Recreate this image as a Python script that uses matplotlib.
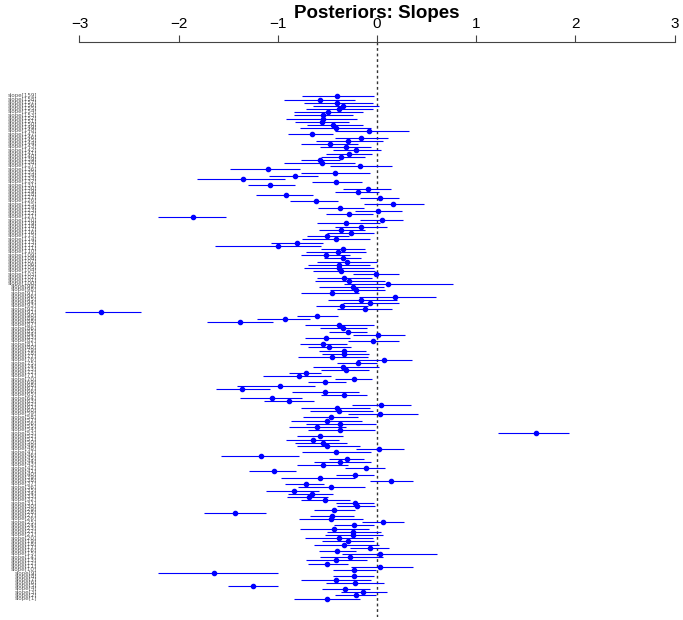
import numpy as np
import matplotlib
matplotlib.use("Agg")
import matplotlib.pyplot as plt

# posterior medians and 95% intervals, top row first
med = [-0.40, -0.57, -0.40, -0.34, -0.38, -0.49, -0.54, -0.54, -0.55, -0.44,
       -0.41, -0.08, -0.66, -0.16, -0.29, -0.47, -0.31, -0.21, -0.28, -0.36,
       -0.57, -0.55, -0.17, -1.10, -0.42, -0.83, -1.35, -0.41, -1.08, -0.09,
       -0.19, -0.92, 0.03, -0.62, 0.16, -0.37, 0.01, -0.28, -1.86, 0.05,
       -0.31, -0.16, -0.36, -0.26, -0.50, -0.41, -0.81, -1.00, -0.34, -0.39,
       -0.51, -0.34, -0.30, -0.38, -0.38, -0.36, -0.01, -0.33, -0.28, 0.11,
       -0.24, -0.21, -0.45, 0.18, -0.16, -0.07, -0.35, -0.12, -2.78, -0.60,
       -0.93, -1.38, -0.38, -0.34, -0.29, 0.01, -0.51, -0.04, -0.54, -0.48,
       -0.33, -0.33, -0.45, 0.07, -0.19, -0.34, -0.31, -0.72, -0.79, -0.23,
       -0.52, -0.98, -1.36, -0.52, -0.33, -1.06, -0.89, 0.04, -0.40, -0.38,
       0.03, -0.46, -0.50, -0.37, -0.60, -0.37, 1.60, -0.57, -0.65, -0.54,
       -0.50, 0.02, -0.41, -1.17, -0.30, -0.37, -0.54, -0.11, -1.04, -0.22,
       -0.57, 0.14, -0.72, -0.46, -0.84, -0.66, -0.69, -0.52, -0.22, -0.20,
       -0.43, -1.43, -0.45, -0.46, 0.06, -0.23, -0.43, -0.24, -0.24, -0.38,
       -0.29, -0.33, -0.07, -0.40, 0.03, -0.27, -0.41, -0.50, 0.03, -0.23,
       -1.64, -0.23, -0.41, -0.22, -1.25, -0.32, -0.14, -0.21, -0.50]
lo = [-0.76, -0.94, -0.74, -0.65, -0.72, -0.84, -0.84, -0.92, -0.83, -0.71,
      -0.78, -0.42, -0.90, -0.42, -0.61, -0.77, -0.57, -0.44, -0.51, -0.56,
      -0.77, -0.94, -0.47, -1.48, -0.77, -1.09, -1.81, -0.66, -1.30, -0.34,
      -0.42, -1.22, -0.17, -0.88, -0.13, -0.59, -0.22, -0.51, -2.21, -0.17,
      -0.60, -0.42, -0.58, -0.50, -0.71, -0.76, -1.07, -1.63, -0.56, -0.72,
      -0.77, -0.53, -0.60, -0.70, -0.74, -0.65, -0.24, -0.60, -0.63, -0.33,
      -0.58, -0.47, -0.77, -0.18, -0.49, -0.34, -0.62, -0.40, -3.15, -0.81,
      -1.21, -1.71, -0.73, -0.57, -0.48, -0.24, -0.73, -0.29, -0.78, -0.70,
      -0.58, -0.55, -0.80, -0.20, -0.40, -0.65, -0.56, -0.89, -1.15, -0.42,
      -0.70, -1.41, -1.62, -0.86, -0.56, -1.38, -1.14, -0.25, -0.77, -0.68,
      -0.29, -0.75, -0.87, -0.72, -0.89, -0.70, 1.22, -0.81, -0.92, -0.83,
      -0.81, -0.21, -0.76, -1.57, -0.48, -0.64, -0.81, -0.32, -1.29, -0.41,
      -0.97, -0.07, -0.93, -0.80, -1.12, -0.90, -0.91, -0.77, -0.41, -0.40,
      -0.64, -1.74, -0.68, -0.79, -0.15, -0.43, -0.78, -0.50, -0.52, -0.73,
      -0.55, -0.64, -0.27, -0.58, -0.35, -0.57, -0.72, -0.70, -0.26, -0.44,
      -2.21, -0.44, -0.77, -0.51, -1.50, -0.55, -0.36, -0.42, -0.84]
hi = [-0.03, -0.22, -0.04, 0.02, -0.04, -0.14, -0.24, -0.20, -0.28, -0.14,
      -0.06, 0.32, -0.44, 0.11, 0.06, -0.19, -0.06, 0.04, -0.05, -0.12,
      -0.37, -0.22, 0.15, -0.78, -0.07, -0.59, -0.93, -0.15, -0.83, 0.14,
      0.02, -0.65, 0.22, -0.39, 0.47, -0.13, 0.25, -0.04, -1.52, 0.26,
      0.03, 0.10, -0.12, -0.03, -0.28, -0.07, -0.54, -0.56, -0.12, -0.11,
      -0.27, -0.16, 0.00, -0.07, -0.03, -0.02, 0.22, -0.05, 0.08, 0.77,
      0.07, 0.08, -0.18, 0.60, 0.20, 0.22, -0.09, 0.15, -2.38, -0.39,
      -0.68, -1.05, -0.03, -0.10, -0.10, 0.28, -0.27, 0.22, -0.30, -0.26,
      -0.11, -0.08, -0.09, 0.35, 0.00, 0.02, -0.08, -0.56, -0.46, -0.05,
      -0.31, -0.63, -1.08, -0.18, -0.10, -0.76, -0.64, 0.34, -0.07, -0.04,
      0.41, -0.19, -0.15, -0.01, -0.31, -0.02, 1.94, -0.34, -0.38, -0.30,
      -0.17, 0.27, -0.06, -0.79, -0.13, -0.06, -0.29, 0.08, -0.82, -0.03,
      -0.22, 0.36, -0.53, -0.12, -0.58, -0.44, -0.49, -0.27, -0.03, -0.02,
      -0.22, -1.12, -0.23, -0.14, 0.27, -0.03, -0.08, 0.04, 0.06, -0.04,
      -0.03, 0.02, 0.12, -0.21, 0.61, 0.06, -0.10, -0.29, 0.36, -0.01,
      -1.00, -0.03, -0.06, 0.07, -1.00, -0.07, 0.10, -0.01, -0.17]
labels = ["slope[%d]" % i for i in range(len(med), 0, -1)]
xticks = [-3, -2, -1, 0, 1, 2, 3]

fig = plt.figure(figsize=(6.83, 6.2), dpi=100)
ax = fig.add_axes([0.0873, 0.0048, 0.909, 0.927])

rows = np.arange(len(med))
ax.axvline(0, color="#333333", lw=1.0, ls=(0, (2, 2)), zorder=1)
ax.hlines(rows, lo, hi, color="#0000ff", lw=0.8, zorder=2)
ax.plot(med, rows, "o", color="#0000ff", ms=3.0, mec="#0000ff", zorder=3)

ax.set_xlim(-3.2, 3.06)
ax.set_ylim(163.8, -17.0)

# only the top axis, from -3 to 3
for s in ["left", "right", "bottom"]:
    ax.spines[s].set_visible(False)
ax.spines["top"].set_bounds(-3, 3)
ax.spines["top"].set_color("#444444")
ax.xaxis.set_ticks_position("top")
ax.set_xticks(xticks)
ax.set_xticklabels(["\u2212%d" % -t if t < 0 else str(t) for t in xticks],
                   fontsize=11, family="Liberation Sans")
ax.tick_params(axis="x", direction="out", length=5, pad=3, color="#444444")
ax.set_yticks([])

# parameter names down the left margin (they overlap in the original too)
for r, lab in zip(rows, labels):
    fig.text(37 / 683, 1 - (96 + r * 3.18) / 620, lab, fontsize=4.0,
             color="#555555", ha="right", va="center")

fig.text(377 / 683, 1 - 14 / 620, "Posteriors: Slopes", fontsize=13.5,
         fontweight="bold", family="Liberation Sans", ha="center", va="center")

fig.savefig("out.png", dpi=100)
